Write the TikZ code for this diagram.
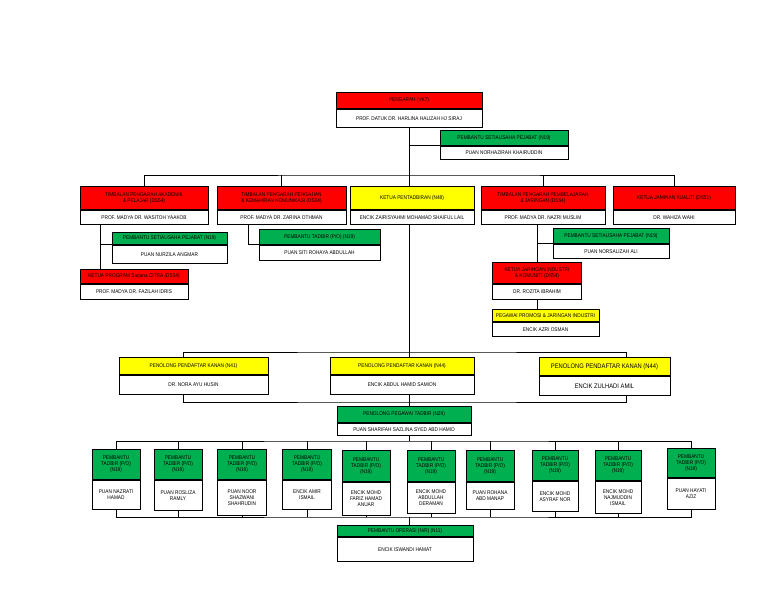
\documentclass[tikz,border=0pt]{standalone}
\usepackage{fontspec}
\setmainfont[FakeStretch=0.88]{Liberation Sans}
\usetikzlibrary{positioning,backgrounds}
\definecolor{hred}{RGB}{255,0,0}
\definecolor{hgreen}{RGB}{0,176,80}
\definecolor{hyellow}{RGB}{255,255,0}
% name, x, top, width, header height, body height, colour, header, body
\newcommand{\orgbox}[9]{%
  \node[hdr,fill=#7,minimum width=#4pt,minimum height=#5pt] (#1) at (#2,#3) {#8};
  \node[bodybox,minimum width=#4pt,minimum height=#6pt,below=0pt of #1] (#1-body) {#9};
}

\begin{document}
\begin{tikzpicture}[x=1pt,y=-1pt,
  hdr/.style={draw,line width=0.9pt,anchor=north,inner sep=0.5pt,align=center,font=\fontsize{5.4}{6.2}\selectfont},
  bodybox/.style={hdr,fill=white},
  link/.style={line width=0.8pt}]
  \useasboundingbox (0,0) rectangle (768,593);
  % Pengarah
  \orgbox{P}{409}{92}{146}{16}{18}{hred}{PENGARAH (VK7)}{PROF. DATUK DR. HARLINA HALIZAH HJ SIRAJ}
  \orgbox{PS0}{504}{130}{128}{15}{13}{hgreen}{PEMBANTU SETIAUSAHA PEJABAT (N19)}{PUAN NORHAZIRAH KHAIRUDDIN}
  % Timbalan dan ketua
  \orgbox{TA}{144}{186}{128}{23}{14}{hred}{TIMBALAN PENGARAH AKADEMIK\\\& PELAJAR (DS54)}{PROF. MADYA DR. WASITOH YAAKOB}
  \orgbox{TP}{281.5}{186}{129}{23}{14}{hred}{TIMBALAN PENGARAH PENGAJIAN\\\& KEMAHIRAN KOMUNIKASI (DS54)}{PROF. MADYA DR. ZARINA OTHMAN}
  \orgbox{KP}{412}{186}{124}{23}{14}{hyellow}{KETUA PENTADBIRAN (N48)}{ENCIK ZAIRISYAHMI MOHAMAD SHAIFUL LAIL}
  \orgbox{TJ}{543}{186}{124}{23}{14}{hred}{TIMBALAN PENGARAH PEMBELAJARAN\\\& JARINGAN (DS54)}{PROF. MADYA DR. NAZRI MUSLIM}
  \orgbox{KJ}{674}{186}{122}{23}{14}{hred}{KETUA JAMINAN KUALITI (DS51)}{DR. WAHIZA WAHI}
  % Bawah timbalan
  \orgbox{PS1}{169.5}{232}{115}{12}{18}{hgreen}{PEMBANTU SETIAUSAHA PEJABAT (N19)}{PUAN NURZILA ANGMAR}
  \orgbox{KPC}{134}{269}{108}{14}{15}{hred}{KETUA PROGRAM Sarjana CITRA (DS54)}{PROF. MADYA DR. FAZILAH IDRIS}
  \orgbox{PT1}{319.5}{229}{121}{15}{15}{hgreen}{PEMBANTU TADBIR (P/O) (N19)}{PUAN SITI ROHAYA ABDULLAH}
  \orgbox{PS2}{611}{228}{116}{15}{14}{hgreen}{PEMBANTU SETIAUSAHA PEJABAT (N19)}{PUAN NORSALIZAH ALI}
  \orgbox{KJI}{537}{262}{89}{21}{15}{hred}{KETUA JARINGAN INDUSTRI\\\& KOMUNITI (DS54)}{DR. ROZITA IBRAHIM}
  \orgbox{PPJ}{545.5}{309}{107}{12}{14}{hyellow}{PEGAWAI PROMOSI \& JARINGAN INDUSTRI}{ENCIK AZRI OSMAN}
  % Penolong pendaftar
  \orgbox{PPK1}{193.5}{357}{149}{17}{19}{hyellow}{PENOLONG PENDAFTAR KANAN (N41)}{DR. NORA AYU HUSIN}
  \orgbox{PPK2}{402}{357}{144}{17}{19}{hyellow}{PENOLONG PENDAFTAR KANAN (N44)}{ENCIK ABDUL HAMID SAMION}
  \orgbox{PPK3}{604.5}{357}{131}{18}{19}{hyellow}{\fontsize{6.6}{7.5}\selectfont PENOLONG PENDAFTAR KANAN (N44)}{\fontsize{6.6}{7.5}\selectfont ENCIK ZULHADI AMIL}
  \orgbox{PPT}{404}{406}{134}{16}{12}{hgreen}{PENOLONG PEGAWAI TADBIR (N29)}{PUAN SHARIFAH SAZLINA SYED ABD HAMID}
  % Pembantu tadbir
  \orgbox{T1}{116}{449}{48}{30}{29}{hgreen}{PEMBANTU\\TADBIR (P/O)\\(N19)}{PUAN NAZRATI\\HAMAD}
  \orgbox{T2}{178}{449}{48}{30}{30}{hgreen}{PEMBANTU\\TADBIR (P/O)\\(N19)}{PUAN ROSLIZA\\RAMLY}
  \orgbox{T3}{242}{449}{49}{30}{35}{hgreen}{PEMBANTU\\TADBIR (P/O)\\(N19)}{PUAN NOOR\\SHAZWANI\\SHAHRUDIN}
  \orgbox{T4}{307}{449}{49}{30}{29}{hgreen}{PEMBANTU\\TADBIR (P/O)\\(N19)}{ENCIK AMIR\\ISMAIL}
  \orgbox{T5}{366}{450}{48}{31}{33}{hgreen}{PEMBANTU\\TADBIR (P/O)\\(N19)}{ENCIK MOHD\\FARIZ HAMAD\\ANUAR}
  \orgbox{T6}{431}{450}{48}{31}{31}{hgreen}{PEMBANTU\\TADBIR (P/O)\\(N19)}{ENCIK MOHD\\ABDULLAH\\DERAMAN}
  \orgbox{T7}{490}{450}{48}{31}{27}{hgreen}{PEMBANTU\\TADBIR (P/O)\\(N19)}{PUAN ROHANA\\ABD MANAP}
  \orgbox{T8}{555}{450}{46}{30}{30}{hgreen}{PEMBANTU\\TADBIR (P/O)\\(N19)}{ENCIK MOHD\\ASYRAF NOR}
  \orgbox{T9}{618}{450}{46}{30}{32}{hgreen}{PEMBANTU\\TADBIR (P/O)\\(N19)}{ENCIK MOHD\\NAJMUDDIN\\ISMAIL}
  \orgbox{T10}{691}{448}{48}{29}{31}{hgreen}{PEMBANTU\\TADBIR (P/O)\\(N19)}{PUAN HAYATI\\AZIZ}
  \orgbox{PO}{405}{525}{136}{11}{24}{hgreen}{PEMBANTU OPERASI (N/R) (N11)}{ENCIK ISWANDI HAMAT}
  % Garisan penghubung
  \begin{scope}[on background layer]
    \coordinate (busA) at (409,175);
    \coordinate (busB) at (409,352);
    \coordinate (busC) at (409,402);
    \coordinate (busD) at (409,441);
    \coordinate (busE) at (409,517);
    \coordinate (sA) at (100,0);
    \coordinate (sB) at (248,0);
    \coordinate (mL) at (183,0);
    \coordinate (mR) at (626,0);
    \draw[link] (P-body.south) -- (busB);
    \draw[link] (busA |- PS0.south west) -- (PS0.south west);
    \draw[link] (TA.north) |- (busA) -| (KJ.north);
    \draw[link] (TP.north) -- (TP.north |- busA) (TJ.north) -- (TJ.north |- busA);
    \draw[link] (TA-body.south -| sA) -- (KPC.north -| sA);
    \draw[link] (PS1.south west -| sA) -- (PS1.south west);
    \draw[link] (TP-body.south -| sB) |- (PT1.south west);
    \draw[link] (TJ-body.south -| KJI.north) -- (KJI.north);
    \draw[link] (PS2.south west -| KJI.north) -- (PS2.south west);
    \draw[link] (KJI-body.south) -- (KJI-body.south |- PPJ.north);
    \draw[link] (PPK1.north -| mL) |- (busB) -| (PPK3.north -| mR);
    \draw[link] (PPK1-body.south -| mL) |- (busC) -| (PPK3-body.south -| mR);
    \draw[link] (busB) -- (PPT.north -| busB);
    \draw[link] (PPT-body.south -| busD) -- (busD);
    \draw[link] (T1.north) |- (busD) -| (T10.north);
    \draw[link] (T2.north) -- (T2.north |- busD) (T3.north) -- (T3.north |- busD)
      (T4.north) -- (T4.north |- busD) (T5.north) -- (T5.north |- busD)
      (T6.north) -- (T6.north |- busD) (T7.north) -- (T7.north |- busD)
      (T8.north) -- (T8.north |- busD) (T9.north) -- (T9.north |- busD);
    \draw[link] (T1-body.south) |- (busE) -| (T10-body.south);
    \draw[link] (T2-body.south) -- (T2-body.south |- busE) (T3-body.south) -- (T3-body.south |- busE)
      (T4-body.south) -- (T4-body.south |- busE) (T5-body.south) -- (T5-body.south |- busE)
      (T6-body.south) -- (T6-body.south |- busE) (T7-body.south) -- (T7-body.south |- busE)
      (T8-body.south) -- (T8-body.south |- busE) (T9-body.south) -- (T9-body.south |- busE);
    \draw[link] (busE) -- (PO.north -| busE);
  \end{scope}
\end{tikzpicture}
\end{document}
